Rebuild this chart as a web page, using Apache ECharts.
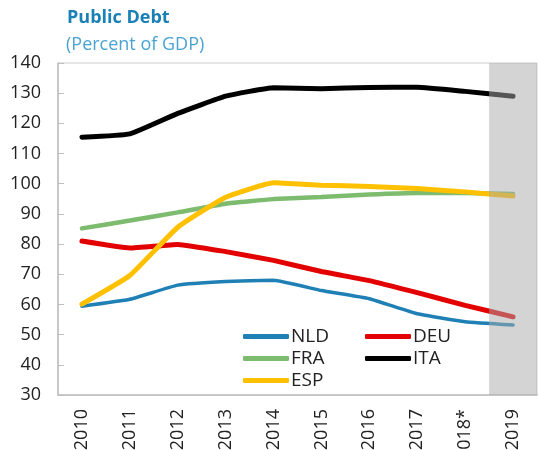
<!DOCTYPE html>
<html>
  <head>
    <meta charset="utf-8" />
    <script src="https://cdn.jsdelivr.net/npm/echarts@6/dist/echarts.min.js"></script>
    <style>
      html, body { margin: 0; padding: 0; background: #fff; }
      #chart { width: 539px; height: 450px; }
    </style>
  </head>
  <body>
    <div id="chart"></div>
    <script>
      // data
      var years = ['2010', '2011', '2012', '2013', '2014', '2015', '2016', '2017', '2018*', '2019'];
      var nld = [59.4, 61.7, 66.4, 67.6, 68.0, 64.6, 61.9, 56.9, 54.3, 53.2];
      var deu = [81.0, 78.7, 79.9, 77.5, 74.6, 70.9, 67.9, 63.9, 59.7, 55.9];
      var fra = [85.2, 87.8, 90.5, 93.4, 94.9, 95.6, 96.4, 96.9, 96.9, 96.6];
      var ita = [115.4, 116.5, 123.3, 129.0, 131.8, 131.5, 131.9, 132.0, 130.6, 129.0];
      var esp = [60.1, 69.6, 85.6, 95.5, 100.3, 99.5, 99.1, 98.4, 97.3, 95.9];
      // shaded projection column
      var band = [null, null, null, null, null, null, null, null, null, 140];

      var font = 'Open Sans';

      function line(name, data, color, width) {
        return {
          name: name,
          type: 'line',
          data: data,
          smooth: 0.12,
          symbol: 'none',
          z: 2,
          lineStyle: { color: color, width: width, cap: 'round' },
          itemStyle: { color: color }
        };
      }

      var chart = echarts.init(document.getElementById('chart'));
      chart.setOption({
        animation: false,
        title: [
          { text: 'Public Debt', left: 62, top: 4,
            textStyle: { fontFamily: font, fontSize: 18, fontWeight: 'bold', color: '#1a80b6' } },
          { text: '(Percent of GDP)', left: 61, top: 31,
            textStyle: { fontFamily: font, fontSize: 18, fontWeight: 'normal', color: '#4ba3d3' } }
        ],
        grid: {
          left: 58, right: 2, top: 63, bottom: 55,
          outerBoundsMode: 'none',
          show: true, borderColor: '#cccccc', borderWidth: 1
        },
        legend: [
          { data: ['NLD', 'FRA', 'ESP'], orient: 'vertical', left: 238, top: 322,
            itemWidth: 46, itemHeight: 5, itemGap: 3, icon: 'roundRect',
            textStyle: { fontFamily: font, fontSize: 19, color: '#222', padding: [0, 0, 0, -3] } },
          { data: ['DEU', 'ITA'], orient: 'vertical', left: 360, top: 322,
            itemWidth: 46, itemHeight: 5, itemGap: 3, icon: 'roundRect',
            textStyle: { fontFamily: font, fontSize: 19, color: '#222', padding: [0, 0, 0, -3] } }
        ],
        xAxis: {
          type: 'category',
          data: years,
          boundaryGap: true,
          axisLine: { lineStyle: { color: '#bfbfbf', width: 1.5 } },
          axisTick: { inside: true, length: 6, lineStyle: { color: '#bfbfbf' } },
          axisLabel: { rotate: 90, margin: 14, fontFamily: font, fontSize: 18, color: '#222' },
          splitLine: { show: false }
        },
        yAxis: {
          type: 'value',
          min: 30,
          max: 140,
          interval: 10,
          axisLine: { show: true, lineStyle: { color: '#bfbfbf', width: 1.5 } },
          axisTick: { show: true, inside: true, length: 6, lineStyle: { color: '#bfbfbf' } },
          axisLabel: { margin: 17, fontFamily: font, fontSize: 18, color: '#222' },
          splitLine: { show: false }
        },
        series: [
          line('NLD', nld, '#1f80b5', 3.5),
          line('DEU', deu, '#e30000', 5),
          line('FRA', fra, '#7dbb6e', 4.5),
          line('ITA', ita, '#000000', 5),
          line('ESP', esp, '#ffc000', 5),
          {
            name: 'band',
            type: 'bar',
            data: band,
            barWidth: '100%',
            silent: true,
            z: 5,
            itemStyle: { color: 'rgba(170,170,170,0.5)' }
          }
        ]
      });
    </script>
  </body>
</html>
